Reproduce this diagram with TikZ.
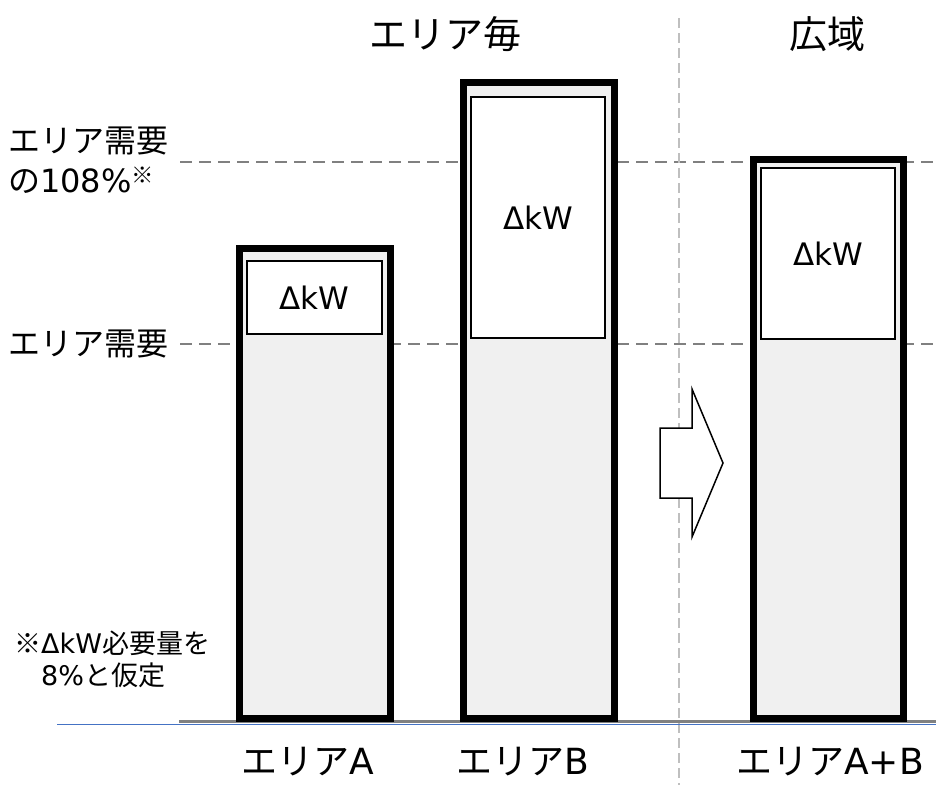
\documentclass[tikz,border=0pt]{standalone}
\usepackage{fontspec}
\setmainfont{Noto Sans CJK JP}
\newfontfamily\vd{DejaVu Sans}
\usetikzlibrary{positioning}

\definecolor{barfill}{HTML}{F0F0F0}
\definecolor{refgray}{HTML}{808080}
\definecolor{sepgray}{HTML}{BFBFBF}
\definecolor{baseblue}{HTML}{4472C4}

\begin{document}
\begin{tikzpicture}[x=1pt, y=-1pt,
	bar/.style={draw, line width=7pt, fill=barfill, anchor=south, inner sep=0pt},
	dkw/.style={draw, line width=2pt, fill=white, inner sep=0pt, font=\fontsize{31}{38}\vd},
	title/.style={font=\fontsize{38}{46}\selectfont, inner sep=0pt},
	lbl/.style={font=\fontsize{36}{42}\selectfont, inner sep=0pt},
	side/.style={font=\fontsize{32}{40}\selectfont, align=left, anchor=west, inner sep=0pt},
	note/.style={font=\fontsize{27}{32}\selectfont, align=left, anchor=west, inner sep=0pt},
	refline/.style={refgray, line width=2pt, dash pattern=on 12pt off 7pt},
	sepline/.style={sepgray, line width=1.5pt, dash pattern=on 10pt off 5pt}]

	\useasboundingbox (0,0) rectangle (936,785);

	% Reference levels and base
	\coordinate (hiL)   at (180,162);
	\coordinate (hiR)   at (936,162);
	\coordinate (loL)   at (180,344);
	\coordinate (loR)   at (936,344);
	\coordinate (sepT)  at (679,18);
	\coordinate (sepB)  at (679,785);
	\coordinate (blueL) at (57,724);
	\coordinate (blueR) at (936,724);
	\coordinate (grayL) at (179,721.5);
	\coordinate (grayR) at (936,721.5);

	\draw [refline] (hiL) -- (hiR);
	\draw [refline] (loL) -- (loR);
	\draw [sepline] (sepT) -- (sepB);
	\draw [baseblue, line width=1pt] (blueL) -- (blueR);
	\draw [refgray, line width=2.5pt] (grayL) -- (grayR);

	% Bars {barA, barB, barAB}
	\node [bar, minimum width=150.5pt, minimum height=470pt]   (barA)  at (314.75,721.5) {};
	\node [bar, minimum width=151pt,   minimum height=635.5pt] (barB)  at (538.5,721.5)  {};
	\node [bar, minimum width=150pt,   minimum height=559pt]   (barAB) at (828,721.5)    {};

	% Reserve boxes
	\node [dkw, minimum width=135pt, minimum height=73pt]  (dkwA)  at (314.5,297.5) {ΔkW};
	\node [dkw, minimum width=134pt, minimum height=241pt] (dkwB)  at (538,217.5)   {ΔkW};
	\node [dkw, minimum width=134pt, minimum height=171pt] (dkwAB) at (828,253.5)   {ΔkW};

	% Arrow
	\draw [line width=1.5pt, fill=white] (660,428) -- (692,428) -- (692,389) -- (723,463)
		-- (692,537) -- (692,498) -- (660,498) -- cycle;

	% Texts
	\node [title] (ttlArea) at (445,34) {エリア毎};
	\node [title] (ttlWide) at (827,34) {広域};
	\node [side]  (lvlHi)   at (8,160)  {エリア需要\\の{\vd 108\%}\textsuperscript{※}};
	\node [side]  (lvlLo)   at (8,344)  {エリア需要};
	\node [note]  (nt)      at (14,659) {※{\vd ΔkW}必要量を\\\hphantom{※}{\vd 8\%}と仮定};
	\node [lbl]   (lblA)    at (308,762) {エリア{\vd A}};
	\node [lbl]   (lblB)    at (523,762) {エリア{\vd B}};
	\node [lbl]   (lblAB)   at (830,762) {エリア{\vd A+B}};

\end{tikzpicture}
\end{document}
